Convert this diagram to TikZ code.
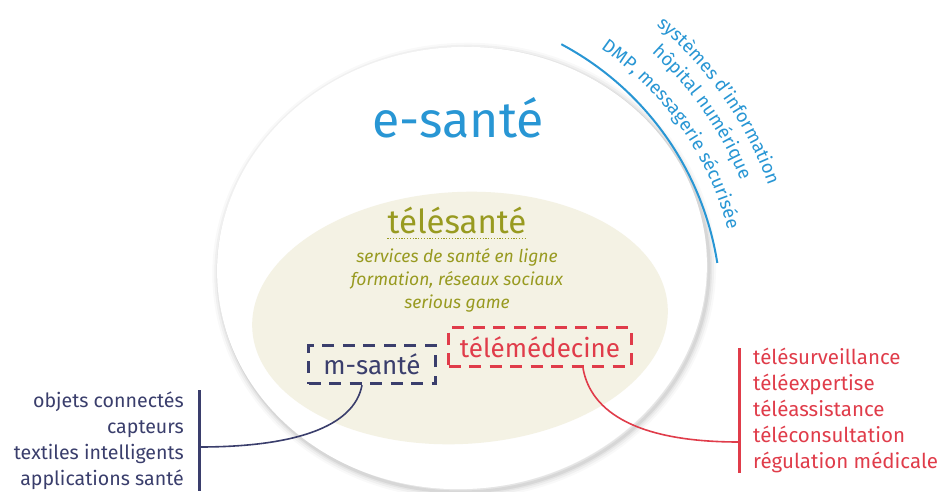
\documentclass[tikz,border=0pt]{standalone}
\usepackage{fontspec}
\setmainfont{Fira Sans}
\usetikzlibrary{positioning, decorations.text}

\definecolor{esanteblue}{RGB}{40,150,212}
\definecolor{telesanteolive}{RGB}{152,154,32}
\definecolor{telesantebeige}{RGB}{244,242,228}
\definecolor{msantenavy}{RGB}{58,62,108}
\definecolor{telemedred}{RGB}{224,60,74}

\newcommand{\arcfont}{\fontsize{18.5}{20}\selectfont\color{esanteblue}}

\begin{document}
\begin{tikzpicture}
    [
        x=1pt, y=-1pt,
        plain_text/.style={inner sep=0pt},
        dash_box/.style={draw, line width=3.4pt, dash pattern=on 12pt off 8.5pt, inner sep=0pt, font=\fontsize{26}{30}\selectfont},
        list_text/.style={inner sep=0pt},
        list_bar/.style={line width=3pt},
        link_line/.style={line width=1.6pt},
        arc_text/.style={decorate, decoration={text along path, text align=center}},
    ]
        \useasboundingbox (0,0) rectangle (938,491);
        \fill[white] (0,0) rectangle (938,491);

        % e-sante field with its soft shadow
        \coordinate (esante_c) at (462,268);
        \foreach \w/\o in {14/0.025, 10/0.035, 6/0.045, 3/0.06}
            \draw[black, opacity=\o, line width=\w pt, rotate around={4:(esante_c)}] ([shift={(2,3)}]esante_c) ellipse [x radius=245, y radius=221];
        \fill[white, rotate around={4:(esante_c)}] (esante_c) ellipse [x radius=245, y radius=221];
        \fill[telesantebeige, rotate around={3:(460,318)}] (460,318) ellipse [x radius=208, y radius=126];

        \node[plain_text, text=esanteblue, font=\fontsize{50}{60}\selectfont, anchor=base] (esante) at (458,137) {e-santé};

        \node[plain_text, text=telesanteolive, font=\fontsize{33}{40}\selectfont, anchor=base] (telesante) at (457,233) {télésanté};
        \draw[telesanteolive, line width=0.8pt, dash pattern=on 1.2pt off 1.6pt] ([yshift=-5pt]telesante.base west) -- ([yshift=-5pt]telesante.base east);
        \node[plain_text, text=telesanteolive, font=\itshape\fontsize{17.5}{23}\selectfont, align=center, below=15pt of telesante] (telesante_list) {services de santé en ligne\\formation, réseaux sociaux\\serious game};

        \node[dash_box, draw=msantenavy, text=msantenavy, minimum width=127pt, minimum height=38pt] (msante) at (372,364.5) {m-santé};
        \node[dash_box, draw=telemedred, text=telemedred, minimum width=183pt, minimum height=39pt] (telemed) at (540,347) {télémédecine};

        % lists (base = last line)
        \node[list_text, text=msantenavy, font=\fontsize{19.6}{25.7}\selectfont, align=right, anchor=base east] (msante_list) at (184,485) {objets connectés\\capteurs\\textiles intelligents\\applications santé};
        \node[list_text, text=telemedred, font=\fontsize{20.5}{25.8}\selectfont, align=left, anchor=base west] (telemed_list) at (753,468) {télésurveillance\\téléexpertise\\téléassistance\\téléconsultation\\régulation médicale};

        \coordinate (msante_bar_top) at (199,390);
        \coordinate (msante_bar_bottom) at (199,491);
        \coordinate (msante_tie) at (199,447);
        \coordinate (telemed_bar_top) at (739,348);
        \coordinate (telemed_bar_bottom) at (739,473);
        \coordinate (telemed_tie) at (739,442);

        \draw[msantenavy, list_bar] (msante_bar_top) -- (msante_bar_bottom);
        \draw[telemedred, list_bar] (telemed_bar_top) -- (telemed_bar_bottom);
        \draw[msantenavy, link_line] ([xshift=-10pt]msante.south) .. controls +(-8,42) and +(95,0) .. (msante_tie);
        \draw[telemedred, link_line] ([xshift=43pt]telemed.south) .. controls +(8,45) and +(-100,0) .. (telemed_tie);

        % e-sante arc and its curved labels
        \coordinate (arc_c) at (420,310);
        \draw[esanteblue, line width=2pt] (arc_c) ++(-62:301) arc[start angle=-62, end angle=-9, radius=301];
        \path[arc_text, decoration={text={|\arcfont|DMP, messagerie sécurisée}}] (arc_c) ++(-75:318) arc[start angle=-75, end angle=5, radius=318];
        \path[arc_text, decoration={text={|\arcfont|hôpital numérique}}] (arc_c) ++(-75:346) arc[start angle=-75, end angle=5, radius=346];
        \path[arc_text, decoration={text={|\arcfont|systèmes d’information}}] (arc_c) ++(-75:370) arc[start angle=-75, end angle=5, radius=370];
    \end{tikzpicture}
\end{document}
